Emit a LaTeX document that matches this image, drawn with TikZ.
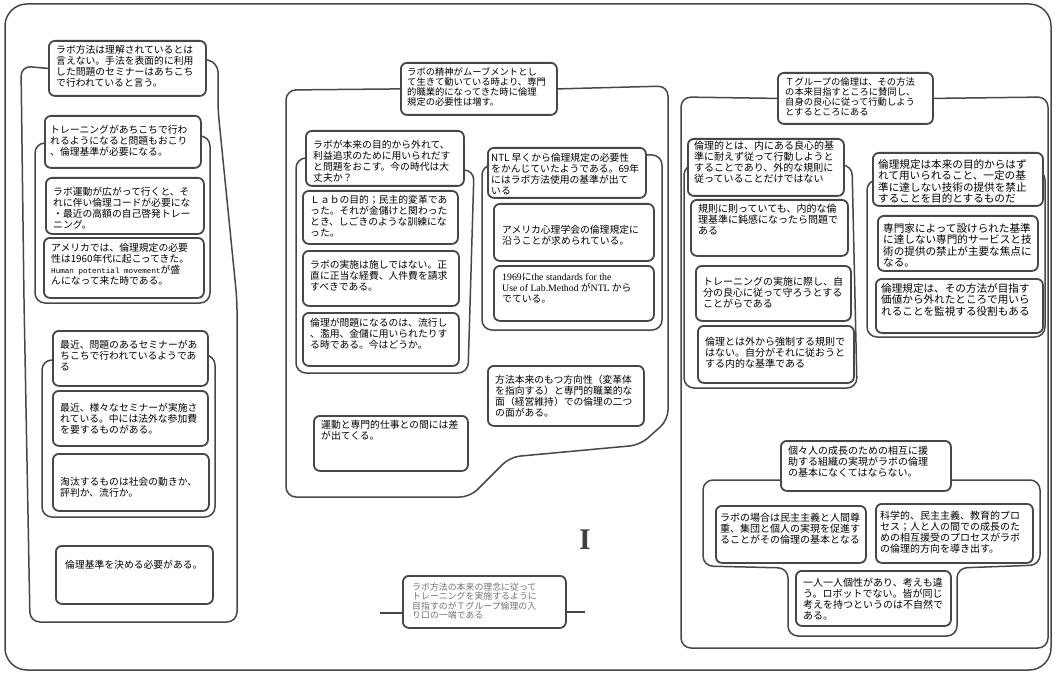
\documentclass[tikz,border=0pt]{standalone}
\usepackage{fontspec}
\setmainfont{Noto Sans CJK JP}
\newfontfamily\lmono{Liberation Mono}
\newfontfamily\lserif{Liberation Serif}
\usetikzlibrary{backgrounds}
\tikzset{
  card/.style={draw=black!72, line width=1.8pt, rounded corners=6pt, fill=white, inner sep=0pt},
  frame/.style={draw=black!72, line width=1.5pt, rounded corners=10pt},
  txt/.style={anchor=north west, align=left, inner sep=0pt, font=\fontsize{9.8}{10.9}\selectfont},
  txts/.style={anchor=north west, align=left, inner sep=0pt, font=\fontsize{9.3}{10.2}\selectfont},
  txtxs/.style={anchor=north west, align=left, inner sep=0pt, text=black!55, font=\fontsize{8.9}{9.2}\selectfont},
  txtr/.style={anchor=north west, align=left, inner sep=0pt, font=\fontsize{10}{10.9}\selectfont},
  txtrr/.style={anchor=north west, align=left, inner sep=0pt, font=\fontsize{10.6}{11.5}\selectfont},
}
% name, x, y, w, h, style, dx, dy, text
\newcommand\mkcard[9]{%
  \node[card, anchor=north west, minimum width=#4pt, minimum height=#5pt] (#1) at (#2,#3) {};
  \node[#6] (#1-t) at ([xshift=#7pt,yshift=-#8pt]#1.north west) {#9};}
\begin{document}
\begin{tikzpicture}[x=1pt,y=-1pt]
\useasboundingbox (0,0) rectangle (1056,676);

% ---------------- left group ----------------
\mkcard{L1}{48}{40}{157}{55}{txt}{8}{5}{ラボ方法は理解されているとは\\言えない。手法を表面的に利用\\した問題のセミナーはあちこち\\で行われていると言う。}
\mkcard{L2}{44}{115}{156}{52}{txt}{6}{10}{トレーニングがあちこちで行わ\\れるようになると問題もおこり\\、倫理基準が必要になる。}
\mkcard{L3}{45}{177}{158}{56}{txt}{8}{10}{ラボ運動が広がって行くと、そ\\れに伴い倫理コードが必要にな\\・最近の高額の自己啓発トレー\\ニング。}
\mkcard{L4}{43}{237}{160}{60}{txt}{8}{6}{アメリカでは、倫理規定の必要\\性は1960年代に起こってきた。\\{\lmono\fontsize{7.6}{10.9}\selectfont Human potential movement}が盛\\んになって来た時である。}
\mkcard{L5}{52}{330}{155}{55}{txt}{8}{10}{最近、問題のあるセミナーがあ\\ちこちで行われているようであ\\る}
\mkcard{L6}{52}{390}{155}{55}{txt}{8}{13}{最近、様々なセミナーが実施さ\\れている。中には法外な参加費\\を要するものがある。}
\mkcard{L7}{52}{453}{156}{57}{txt}{8}{24}{淘汰するものは社会の動きか、\\評判か、流行か。}
\mkcard{L8}{55}{545}{157}{58}{txt}{10}{15}{倫理基準を決める必要がある。}

% ---------------- middle group ----------------
\mkcard{M0}{400}{62}{156}{52}{txts}{7}{5}{ラボの精神がムーブメントとし\\て生きて動いている時より、専門\\的職業的になってきた時に倫理\\規定の必要性は増す。}
\mkcard{ML1}{305}{130}{158}{55}{txt}{8}{10}{ラボが本来の目的から外れて、\\利益追求のために用いられだす\\と問題をおこす。今の時代は大\\丈夫か？}
\mkcard{ML2}{302}{190}{155}{53}{txt}{8}{5}{Ｌａｂの目的；民主的変革であ\\った。それが金儲けと関わった\\とき、しごきのような訓練にな\\った。}
\mkcard{ML3}{302}{250}{156}{55}{txt}{8}{10}{ラボの実施は施しではない。正\\直に正当な経費、人件費を請求\\すべきである。}
\mkcard{ML4}{302}{312}{156}{53}{txt}{8}{6}{倫理が問題になるのは、流行し\\、濫用、金儲に用いられたりす\\る時である。今はどうか。}
\mkcard{ML5}{313}{415}{154}{55}{txt}{8}{5}{運動と専門的仕事との間には差\\が出てくる。}
\mkcard{MR1}{487}{147}{158}{50}{txt}{4}{6}{NTL 早くから倫理規定の必要性\\をかんじていたようである。69年\\にはラボ方法使用の基準が出て\\いる}
\mkcard{MR2}{493}{203}{160}{57}{txt}{9}{22}{アメリカ心理学会の倫理規定に\\沿うことが求められている。}
\mkcard{MR3}{493}{265}{160}{55}{txt}{9}{8}{{\lserif 1969}に{\lserif the standards for the}\\{\lserif Use of Lab.Method} が{\lserif NTL} から\\でている。}
\mkcard{MR4}{487}{365}{156}{60}{txt}{8}{10}{方法本来のもつ方向性（変革体\\を指向する）と専門的職業的な\\面（経営維持）での倫理の二つ\\の面がある。}

% ---------------- bottom middle ----------------
\mkcard{MB}{402}{575}{163}{52}{txtxs}{10}{8}{ラボ方法の本来の理念に従って\\トレーニングを実施するように\\目指すのがＴグループ倫理の入\\り口の一端である}
\coordinate (mbl) at (380,613);
\coordinate (mbr) at (585,612);
\node[font=\lserif\bfseries\fontsize{30}{30}\selectfont, text=black!75] (numI) at (585,540) {I};

% ---------------- right group ----------------
\mkcard{R0}{777}{72}{155}{51}{txts}{8}{5}{Ｔグループの倫理は、その方法\\の本来目指すところに賛同し、\\自身の良心に従って行動しよう\\とするところにある}
\mkcard{RL1}{687}{138}{156}{57}{txtr}{7}{3}{倫理的とは、内にある良心的基\\準に耐えず従って行動しようと\\することであり、外的な規則に\\従っていることだけではない}
\mkcard{RL2}{690}{199}{157}{56}{txtr}{8}{5}{規則に則っていても、内的な倫\\理基準に鈍感になったら問題で\\ある}
\mkcard{RL3}{695}{265}{155}{55}{txtr}{8}{12}{トレーニングの実施に際し、自\\分の良心に従って守ろうとする\\ことがらである}
\mkcard{RL4}{697}{325}{156}{57}{txtr}{8}{12}{倫理とは外から強制する規則で\\はない。自分がそれに従おうと\\する内的な基準である}
\mkcard{RR1}{872}{152}{170}{53}{txtrr}{6}{7}{倫理規定は本来の目的からはず\\れて用いられること、一定の基\\準に達しない技術の提供を禁止\\することを目的とするものだ}
\mkcard{RR2}{877}{215}{160}{55}{txtrr}{6}{8}{専門家によって設けられた基準\\に達しない専門的サービスと技\\術の提供の禁止が主要な焦点に\\なる。}
\mkcard{RR3}{875}{278}{167}{54}{txtrr}{6}{5}{倫理規定は、その方法が目指す\\価値から外れたところで用いら\\れることを監視する役割もある}
\mkcard{RB0}{780}{440}{170}{50}{txtr}{8}{6}{個々人の成長のための相互に援\\助する組織の実現がラボの倫理\\の基本になくてはならない。}
\mkcard{RB1}{715}{505}{150}{57}{txtr}{5}{8}{ラボの場合は民主主義と人間尊\\重、集団と個人の実現を促進す\\ることがその倫理の基本となる}
\mkcard{RB2}{875}{503}{157}{59}{txtr}{5}{8}{科学的、民主主義、教育的プロ\\セス；人と人の間での成長のた\\めの相互援受のプロセスがラボ\\の倫理的方向を導き出す。}
\mkcard{RB3}{795}{570}{155}{55}{txtr}{8}{8}{一人一人個性があり、考えも違\\う。ロボットでない。皆が同じ\\考えを持つというのは不自然で\\ある。}

% ---------------- frames (behind the cards) ----------------
\begin{pgfonlayer}{background}
\fill[white] (0,0) rectangle (1056,676);
\draw[frame, rounded corners=22pt] (5,4) rectangle (1051,670);
% left
\draw[frame] (L1.west) -- (21,66) -- (24,300) -- (30,622) -- (237,622) -- (237,300) -- (218,110) -- (218,62) -- ([yshift=-20pt]L1.north east);
\draw[frame] ([yshift=-28pt]L2.north west) -- (35,143) -- (35,303) -- (210,303) -- (210,136) -- ([yshift=-21pt]L2.north east);
\draw[frame] ([yshift=-30pt]L5.north west) -- (42,360) -- (42,517) -- (215,517) -- (215,355) -- ([yshift=-25pt]L5.north east);
% middle
\draw[frame] (M0.west) -- (286,90) -- (286,497) -- (470,497) -- (510,457) -- (640,445) -- (668,420) -- (668,86) -- (M0.east);
\draw[frame] ([yshift=-28pt]ML1.north west) -- (296,158) -- (296,373) -- (468,373) -- (474,170) -- ([yshift=-40pt]ML1.north east);
\draw[frame] ([yshift=-18pt]MR1.north west) -- (482,165) -- (482,330) -- (662,330) -- (662,155) -- ([yshift=-8pt]MR1.north east);
% bottom middle
\draw[frame] (MB.west |- mbl) -- (mbl);
\draw[frame] (MB.east |- mbr) -- (mbr);
% right
\draw[frame] (R0.west) -- (681,97) -- (681,648) -- (1048,648) -- (1048,97) -- (R0.east);
\draw[frame] ([yshift=-27pt]RL1.north west) -- (684,165) -- (684,388) -- (857,388) -- (852,165) -- ([yshift=-27pt]RL1.north east);
\draw[frame] ([yshift=-28pt]RR1.north west) -- (867,180) -- (867,337) -- (1045,337) -- (1045,170) -- ([yshift=-18pt]RR1.north east);
\draw[frame] ([yshift=-40pt]RB0.north west) -- (703,480) -- (703,566) -- (788,568) -- (788,636) -- (957,636) -- (957,568) -- (1040,565) -- (1040,480) -- ([yshift=-40pt]RB0.north east);
\end{pgfonlayer}
\end{tikzpicture}
\end{document}
